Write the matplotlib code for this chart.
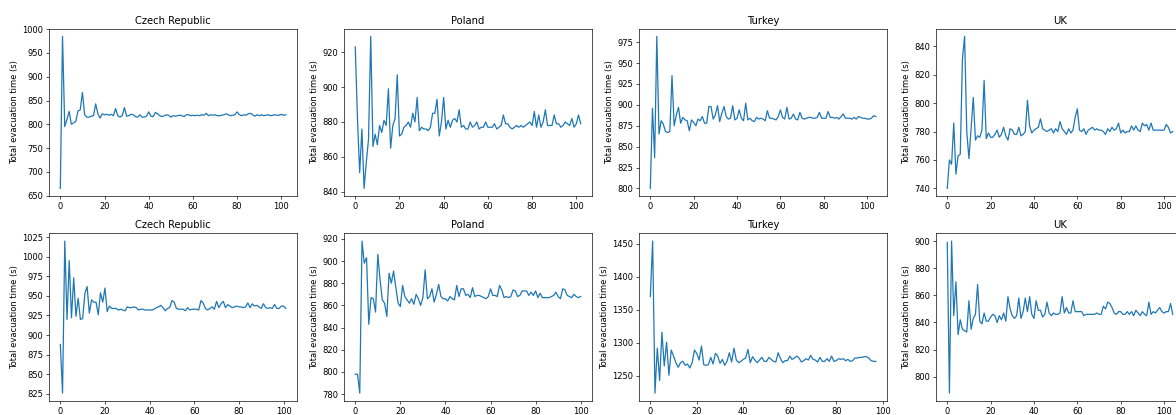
import matplotlib
matplotlib.use("Agg")
import matplotlib.pyplot as plt

# Total evacuation time per run
countries = ["Czech Republic", "Poland", "Turkey", "UK"]

czech_top = [665, 985, 795, 810, 827, 800, 803, 806, 828, 830, 867, 820, 815, 815, 817, 818,
             843, 822, 813, 822, 820, 821, 819, 821, 818, 833, 818, 815, 818, 835, 817, 818,
             821, 820, 816, 815, 820, 815, 815, 817, 826, 817, 816, 825, 822, 818, 816, 818,
             820, 819, 815, 818, 817, 818, 819, 818, 816, 820, 820, 818, 819, 818, 819, 818,
             820, 819, 823, 818, 820, 819, 820, 818, 818, 819, 820, 822, 820, 818, 819, 820,
             826, 820, 818, 820, 819, 822, 823, 820, 817, 820, 818, 820, 818, 819, 820, 818,
             819, 820, 819, 819, 821, 819, 820]
poland_top = [923, 882, 851, 876, 842, 857, 870, 929, 866, 873, 867, 878, 874, 881, 878, 899,
              865, 878, 882, 907, 872, 873, 877, 878, 880, 877, 885, 880, 894, 875, 877, 876,
              876, 875, 877, 885, 885, 893, 872, 880, 894, 876, 881, 877, 881, 882, 880, 887,
              877, 878, 876, 876, 880, 877, 878, 880, 876, 877, 877, 880, 877, 877, 877, 879,
              876, 877, 878, 884, 879, 879, 877, 876, 877, 878, 877, 878, 877, 878, 879, 880,
              878, 886, 877, 884, 877, 880, 887, 878, 878, 878, 884, 879, 879, 877, 878, 880,
              879, 878, 882, 877, 879, 884, 879]
turkey_top = [800, 896, 837, 982, 865, 881, 877, 868, 867, 868, 935, 875, 888, 897, 878, 885,
              882, 881, 869, 882, 879, 875, 883, 881, 886, 878, 878, 898, 898, 883, 888, 899,
              880, 890, 898, 886, 883, 884, 899, 882, 884, 894, 884, 881, 902, 882, 884, 881,
              880, 885, 883, 884, 883, 881, 893, 884, 884, 883, 882, 886, 894, 885, 883, 897,
              883, 884, 889, 883, 882, 891, 884, 883, 884, 885, 885, 884, 884, 885, 891, 884,
              884, 884, 892, 885, 885, 884, 885, 883, 886, 889, 884, 884, 884, 883, 885, 883,
              886, 885, 884, 884, 883, 883, 884, 887, 886]
uk_top = [740, 760, 757, 786, 750, 763, 764, 831, 847, 780, 761, 782, 804, 774, 777, 776,
          781, 816, 775, 779, 776, 776, 778, 781, 776, 778, 783, 777, 774, 782, 781, 778,
          778, 783, 777, 778, 780, 802, 784, 779, 781, 782, 783, 789, 782, 781, 780, 781,
          782, 779, 782, 780, 787, 782, 780, 778, 782, 779, 781, 790, 796, 781, 780, 782,
          778, 781, 782, 783, 781, 782, 781, 781, 780, 778, 782, 780, 783, 781, 782, 786,
          779, 781, 779, 780, 780, 784, 781, 784, 781, 780, 786, 784, 785, 781, 786, 781,
          781, 781, 781, 781, 781, 785, 783, 779, 780]

czech_bottom = [888, 826, 1020, 920, 995, 922, 973, 924, 947, 920, 921, 953, 962, 928, 945, 942,
                942, 926, 954, 942, 960, 930, 937, 934, 934, 934, 932, 933, 932, 931, 936, 935,
                935, 936, 935, 932, 933, 933, 932, 932, 932, 932, 933, 935, 936, 938, 935, 931,
                934, 935, 944, 942, 934, 933, 933, 933, 931, 935, 932, 933, 933, 933, 932, 944,
                941, 934, 932, 934, 936, 933, 943, 935, 940, 943, 935, 939, 937, 935, 936, 937,
                936, 936, 935, 936, 941, 935, 940, 937, 938, 936, 934, 940, 935, 934, 935, 934,
                939, 934, 934, 937, 937, 934]
poland_bottom = [798, 798, 781, 918, 898, 903, 843, 867, 866, 854, 906, 883, 865, 862, 850, 889,
                 880, 891, 876, 862, 859, 878, 868, 865, 862, 866, 861, 870, 866, 860, 867, 892,
                 866, 868, 875, 863, 870, 879, 868, 866, 866, 864, 868, 866, 865, 878, 868, 875,
                 875, 869, 870, 867, 876, 868, 869, 869, 868, 867, 866, 868, 875, 869, 869, 868,
                 878, 874, 867, 868, 867, 868, 874, 873, 868, 869, 873, 873, 873, 869, 872, 869,
                 873, 867, 871, 867, 867, 867, 867, 868, 869, 872, 868, 866, 875, 874, 869, 868,
                 867, 870, 868, 867, 868]
turkey_bottom = [1370, 1454, 1224, 1292, 1243, 1316, 1265, 1301, 1251, 1289, 1280, 1270, 1263,
                 1270, 1272, 1266, 1268, 1262, 1270, 1289, 1284, 1274, 1295, 1267, 1266, 1267,
                 1278, 1268, 1284, 1280, 1269, 1275, 1266, 1272, 1285, 1271, 1292, 1274, 1270,
                 1272, 1275, 1277, 1290, 1270, 1279, 1274, 1270, 1274, 1278, 1272, 1272, 1278,
                 1275, 1272, 1271, 1285, 1276, 1270, 1273, 1273, 1280, 1275, 1277, 1280, 1277,
                 1271, 1273, 1276, 1274, 1281, 1275, 1274, 1271, 1278, 1272, 1272, 1276, 1272,
                 1280, 1272, 1273, 1276, 1275, 1276, 1273, 1275, 1272, 1273, 1277, 1277, 1278,
                 1278, 1279, 1279, 1277, 1273, 1272, 1272]
uk_bottom = [899, 788, 900, 845, 870, 831, 842, 835, 834, 833, 856, 835, 843, 846, 868, 841,
             839, 847, 841, 841, 844, 846, 845, 840, 845, 842, 847, 841, 859, 850, 845, 843,
             845, 858, 843, 848, 858, 848, 859, 846, 843, 856, 849, 849, 844, 846, 855, 847,
             845, 847, 846, 846, 847, 859, 847, 851, 847, 847, 856, 848, 848, 848, 848, 845,
             846, 846, 846, 846, 846, 847, 846, 846, 852, 850, 855, 854, 851, 847, 846, 848,
             848, 846, 846, 848, 846, 848, 845, 849, 847, 845, 848, 846, 845, 855, 846, 848,
             847, 849, 851, 848, 847, 848, 848, 854, 846]

rows = [[czech_top, poland_top, turkey_top, uk_top],
        [czech_bottom, poland_bottom, turkey_bottom, uk_bottom]]

# the original looks like a default-style figure shrunk down, so use a low dpi
# with default font/tick sizes instead of tweaking every size by hand
DPI = 60
fig = plt.figure(figsize=(1176 / DPI, 415 / DPI), dpi=DPI)

# axes placed by hand; the last column runs past the right edge like the original crop
lefts = [0.0417, 0.2925, 0.5434, 0.7959]
bottoms = [0.5277, 0.0345]
w, h = 0.2109, 0.403

for r, series in enumerate(rows):
    for c, vals in enumerate(series):
        ax = fig.add_axes([lefts[c], bottoms[r], w, h])
        ax.plot(range(len(vals)), vals, color='#1f77b4')
        ax.set_title(countries[c])
        ax.set_ylabel('Total evacuation time (s)')

fig.savefig('out.png', dpi=DPI)
